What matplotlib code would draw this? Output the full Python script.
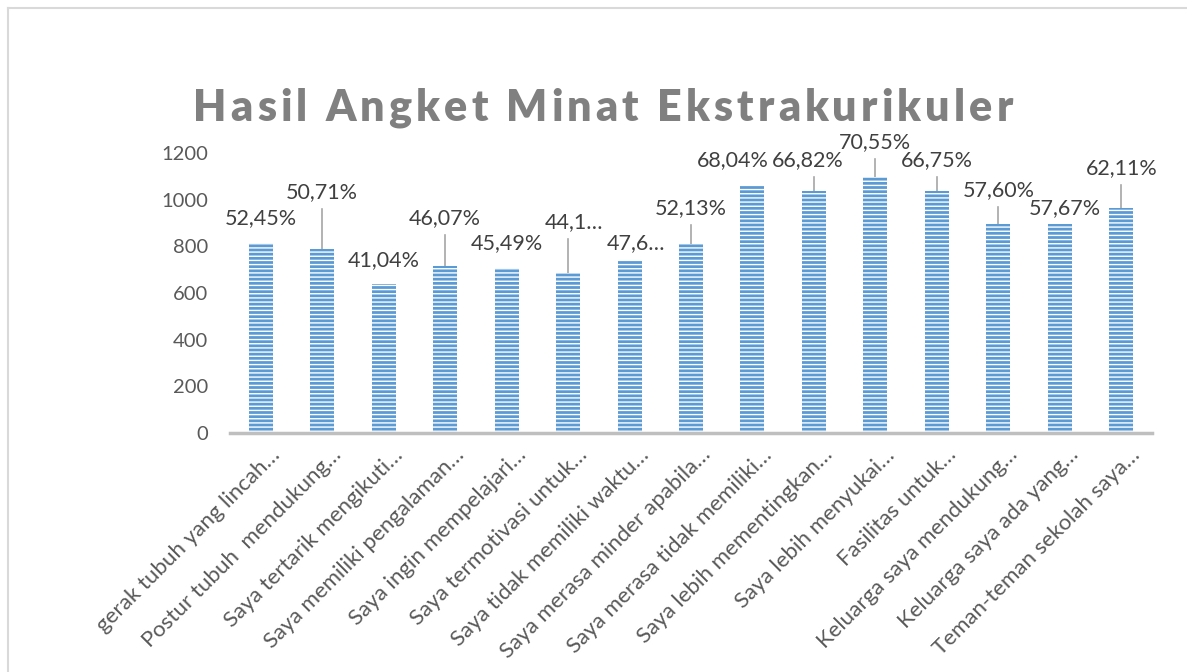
import matplotlib
matplotlib.use("Agg")
import matplotlib.pyplot as plt
from matplotlib.lines import Line2D
import matplotlib.transforms as mtransforms
from matplotlib.font_manager import FontProperties

# ---- data ----
categories = [
    "gerak tubuh yang lincah…",
    "Postur tubuh  mendukung…",
    "Saya tertarik mengikuti…",
    "Saya memiliki pengalaman…",
    "Saya ingin mempelajari…",
    "Saya termotivasi untuk…",
    "Saya tidak memiliki waktu…",
    "Saya merasa minder apabila…",
    "Saya merasa tidak memiliki…",
    "Saya lebih mementingkan…",
    "Saya lebih menyukai…",
    "Fasilitas untuk…",
    "Keluarga saya mendukung…",
    "Keluarga saya ada yang…",
    "Teman-teman sekolah saya…",
]
values = [815, 788, 638, 716, 707, 686, 740, 810, 1057, 1038, 1096, 1037, 895, 896, 965]
pct_labels = ["52,45%", "50,71%", "41,04%", "46,07%", "45,49%", "44,1…", "47,6…",
              "52,13%", "68,04%", "66,82%", "70,55%", "66,75%", "57,60%", "57,67%", "62,11%"]
yticks = [0, 200, 400, 600, 800, 1000, 1200]
title = "Hasil Angket Minat Ekstrakurikuler"

# ---- label layout (positions, not data) ----
label_dx = [0, 0, 0, 0, 0, 0.1, 0.1, 0, -0.32, -0.1, 0, 0, 0, 0.08, 0]
label_y = [921, 1033, 741, 921, 814, 904, 814, 964, 1170, 1170, 1247, 1170, 1041, 964, 1136]
has_leader = [False, True, False, True, False, True, False, True, False, True, True, True, True, False, True]

W, H = 1187, 672
plt.rcParams['font.family'] = ['Lato', 'DejaVu Sans']
plt.rcParams['hatch.linewidth'] = 1.0

fig = plt.figure(figsize=(W / 100, H / 100), dpi=100)
fig.patch.set_facecolor('white')

# chart border (cut off at right/bottom)
fig.add_artist(Line2D([8 / W, 1.0], [1 - 8 / H, 1 - 8 / H], color='#d9d9d9', lw=1.5, transform=fig.transFigure))
fig.add_artist(Line2D([8 / W, 8 / W], [1 - 8 / H, 0], color='#d9d9d9', lw=1.5, transform=fig.transFigure))

ax = fig.add_axes([230 / W, (H - 433) / H, 922 / W, 280 / H])
x = list(range(len(categories)))
ax.bar(x, values, width=0.39, color='#5b9bd5', edgecolor='white', linewidth=0, hatch='----', zorder=2)
ax.set_xlim(-0.5, len(categories) - 0.5)
ax.set_ylim(0, 1200)
ax.set_yticks(yticks)
ax.set_yticklabels([str(v) for v in yticks], fontsize=14.5, color='#595959')
ax.tick_params(axis='y', length=0, pad=16)
for s in ['top', 'right', 'left']:
    ax.spines[s].set_visible(False)
ax.spines['bottom'].set_color('#bfbfbf')
ax.spines['bottom'].set_linewidth(2.5)
ax.set_xticks(x)
ax.tick_params(axis='x', length=0)
offset = mtransforms.ScaledTranslation(16 / 100, -14 / 100, fig.dpi_scale_trans)
ax.set_xticklabels(categories, rotation=45, ha='right', va='center', rotation_mode='anchor',
                   fontsize=16, color='#595959')
for lbl in ax.get_xticklabels():
    lbl.set_transform(lbl.get_transform() + offset)

# data labels with leader lines
ppu = 280 / 1200  # pixels per unit
for i, v in enumerate(values):
    ax.text(i + label_dx[i], label_y[i], pct_labels[i], ha='center', va='center',
            fontsize=15.5, color='#404040', zorder=3)
    if has_leader[i]:
        top = label_y[i] - 17 / ppu
        ax.plot([i, i], [top, v], color='#a6a6a6', lw=1.2, zorder=1)

# title with letter spacing
fig.canvas.draw()
renderer = fig.canvas.get_renderer()
fp = FontProperties(family=['Lato', 'DejaVu Sans'], weight='heavy', size=31)
def adv(ch):
    w1, _, _ = renderer.get_text_width_height_descent('|' + ch + '|', fp, ismath=False)
    w0, _, _ = renderer.get_text_width_height_descent('||', fp, ismath=False)
    return w1 - w0
widths = [adv(c) for c in title]
target = 820
extra = (target - sum(widths)) / (len(title) - 1)
xpos = 193
for c, w in zip(title, widths):
    fig.text(xpos / W, 1 - 108 / H, c, fontproperties=fp, color='#808080', ha='left', va='center')
    xpos += w + extra

fig.savefig('out.png', dpi=100, facecolor='white')
